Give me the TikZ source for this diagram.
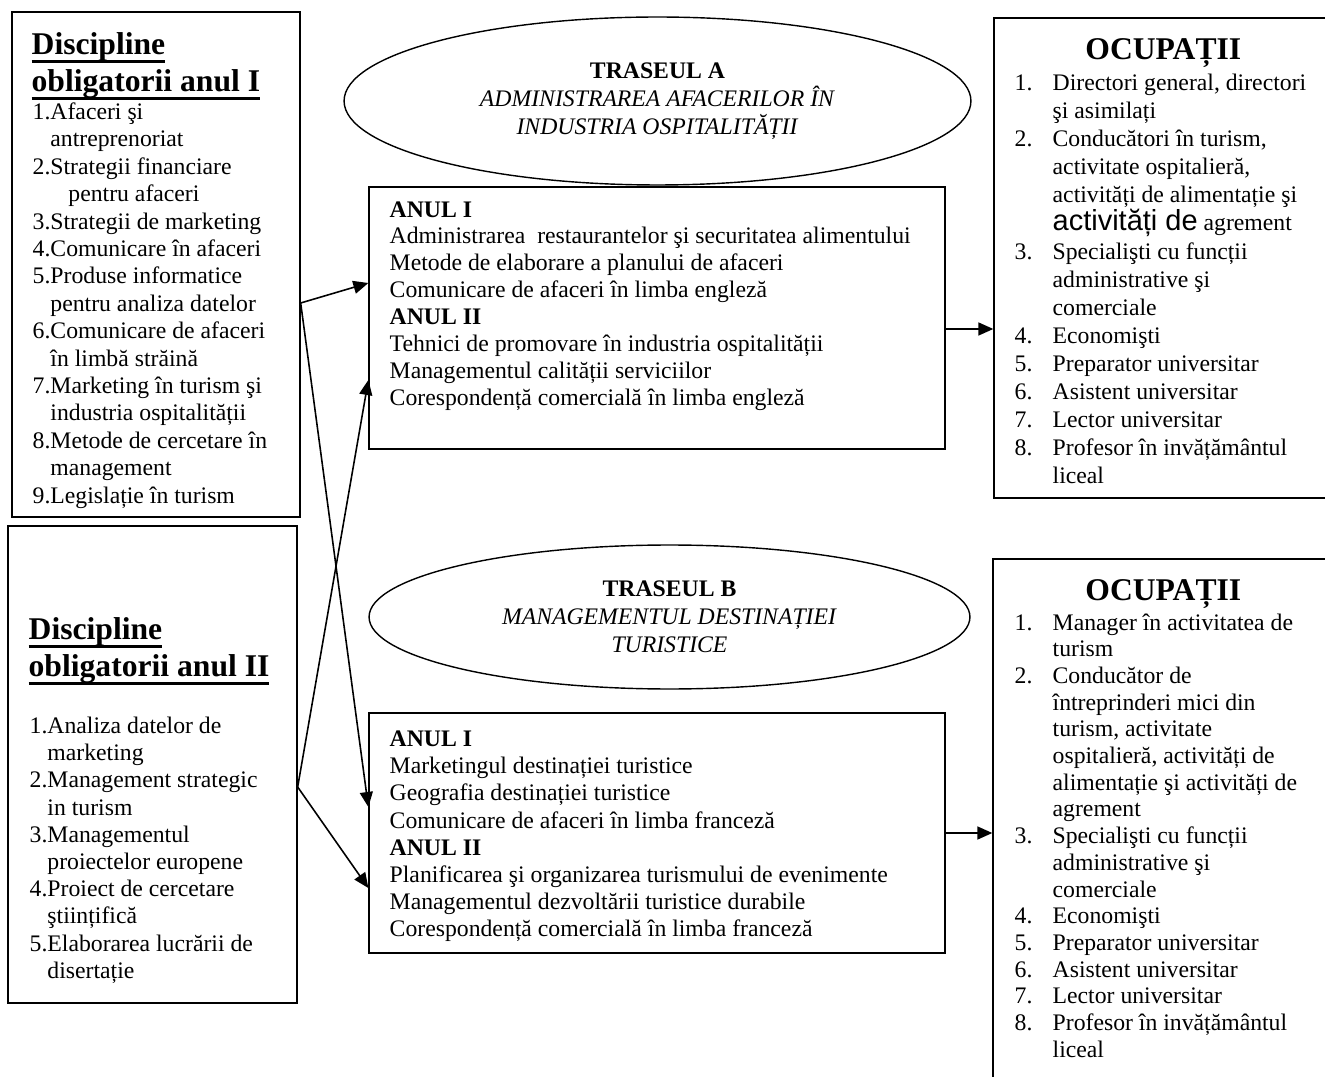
\documentclass[tikz,border=0pt]{standalone}
\usepackage{fontspec}
\setmainfont{Liberation Serif}
\newfontfamily\arialfont{Liberation Sans}
\usetikzlibrary{shapes.geometric,arrows.meta,positioning}

\newcommand{\nr}[1]{\makebox[0.76cm][l]{#1}}
\newcommand{\nx}{\hspace*{0.76cm}}
\newsavebox{\ulbox}
\newcommand{\ulin}[1]{\sbox{\ulbox}{#1}\rlap{\rule[-5pt]{\wd\ulbox}{1.4pt}}\usebox{\ulbox}}

\begin{document}
\begin{tikzpicture}[
    x=0.02cm, y=-0.02cm,
    box/.style={draw, line width=0.8pt, rectangle, inner sep=0pt},
    oval/.style={draw, line width=0.8pt, ellipse, inner sep=0pt, align=center, font=\fontsize{13.5pt}{15.8pt}\selectfont},
    txt/.style={anchor=north west, inner sep=0pt, align=left},
    head/.style={inner sep=0pt, font=\fontsize{18pt}{21pt}\selectfont\bfseries},
    arrow/.style={line width=0.9pt, -{Triangle[length=0.3cm, width=0.26cm]}}
]
\useasboundingbox (0,0) rectangle (1325,1077);

% left column
\node (disc1) [box, minimum width=5.76cm, minimum height=10.1cm] at (156,264.5) {};
\node (disc2) [box, minimum width=5.78cm, minimum height=9.54cm] at (152.5,764.5) {};

\node (disc1head) [txt, font=\fontsize{18pt}{21pt}\selectfont\bfseries] at ([shift={(20,16.6)}]disc1.north west)
    {\strut\ulin{Discipline}\\\ulin{obligatorii anul I}};
\node (disc1list) [txt, font=\fontsize{13.5pt}{15.6pt}\selectfont] at ([shift={(21,88.6)}]disc1.north west)
    {\strut1.Afaceri şi\\
     \phantom{1.}antreprenoriat\\
     2.Strategii financiare\\
     \phantom{1.}\hspace*{0.36cm}pentru afaceri\\
     3.Strategii de marketing\\
     4.Comunicare în afaceri\\
     5.Produse informatice\\
     \phantom{1.}pentru analiza datelor\\
     6.Comunicare de afaceri\\
     \phantom{1.}în limbă străină\\
     7.Marketing în turism şi\\
     \phantom{1.}industria ospitalității\\
     8.Metode de cercetare în\\
     \phantom{1.}management\\
     9.Legislație în turism};

\node (disc2head) [txt, font=\fontsize{18pt}{21pt}\selectfont\bfseries] at ([shift={(21,87.6)}]disc2.north west)
    {\strut\ulin{Discipline}\\\ulin{obligatorii anul II}};
\node (disc2list) [txt, font=\fontsize{13.5pt}{15.5pt}\selectfont] at ([shift={(22,188.6)}]disc2.north west)
    {\strut1.Analiza datelor de\\
     \phantom{1.}marketing\\
     2.Management strategic\\
     \phantom{1.}in turism\\
     3.Managementul\\
     \phantom{1.}proiectelor europene\\
     4.Proiect de cercetare\\
     \phantom{1.}ştiințifică\\
     5.Elaborarea lucrării de\\
     \phantom{1.}disertație};

% traseul A
\node (ovalA) [oval, minimum width=12.54cm, minimum height=3.36cm] at (657.5,101)
    {\textbf{TRASEUL A}\\\textit{ADMINISTRAREA AFACERILOR ÎN}\\\textit{INDUSTRIA OSPITALITĂȚII}};
\node (trA) [box, minimum width=11.52cm, minimum height=5.24cm] at (657,318) {};
\node (trAtext) [txt, font=\fontsize{13.5pt}{15.3pt}\selectfont] at ([shift={(21,11.6)}]trA.north west)
    {\strut\textbf{ANUL I}\\
     Administrarea~ restaurantelor şi securitatea alimentului\\
     Metode de elaborare a planului de afaceri\\
     Comunicare de afaceri în limba engleză\\
     \textbf{ANUL II}\\
     Tehnici de promovare în industria ospitalității\\
     Managementul calității serviciilor\\
     Corespondență comercială în limba engleză};

% traseul B
\node (ovalB) [oval, minimum width=12.02cm, minimum height=2.88cm] at (669.5,617)
    {\textbf{TRASEUL B}\\\textit{MANAGEMENTUL DESTINAȚIEI}\\\textit{TURISTICE}};
\node (trB) [box, minimum width=11.52cm, minimum height=4.8cm] at (657,833) {};
\node (trBtext) [txt, font=\fontsize{13.5pt}{15.5pt}\selectfont] at ([shift={(21,14.6)}]trB.north west)
    {\strut\textbf{ANUL I}\\
     Marketingul destinației turistice\\
     Geografia destinației turistice\\
     Comunicare de afaceri în limba franceză\\
     \textbf{ANUL II}\\
     Planificarea şi organizarea turismului de evenimente\\
     Managementul dezvoltării turistice durabile\\
     Corespondență comercială în limba franceză};

% ocupatii
\node (ocA) [box, minimum width=6.92cm, minimum height=9.6cm] at (1167,258) {};
\node (ocAhead) [head] at ([shift={(170,36)}]ocA.north west) {OCUPAȚII};
\node (ocAlist) [txt, font=\fontsize{13.5pt}{16pt}\selectfont] at ([shift={(21,53)}]ocA.north west)
    {\strut\nr{1.}Directori general, directori\\
     \nx şi asimilați\\
     \nr{2.}Conducători în turism,\\
     \nx activitate ospitalieră,\\
     \nx activități de alimentație şi\\
     \nx {\arialfont\fontsize{16.5pt}{16pt}\selectfont activități de} agrement\\
     \nr{3.}Specialişti cu funcții\\
     \nx administrative şi\\
     \nx comerciale\\
     \nr{4.}Economişti\\
     \nr{5.}Preparator universitar\\
     \nr{6.}Asistent universitar\\
     \nr{7.}Lector universitar\\
     \nr{8.}Profesor în invățământul\\
     \nx liceal};

\node (ocB) [box, minimum width=6.94cm, minimum height=10.62cm] at (1166.5,824.5) {};
\node (ocBhead) [head] at ([shift={(171,36)}]ocB.north west) {OCUPAȚII};
\node (ocBlist) [txt, font=\fontsize{13.5pt}{15.2pt}\selectfont] at ([shift={(22,52.6)}]ocB.north west)
    {\strut\nr{1.}Manager în activitatea de\\
     \nx turism\\
     \nr{2.}Conducător de\\
     \nx întreprinderi mici din\\
     \nx turism, activitate\\
     \nx ospitalieră, activități de\\
     \nx alimentație şi activități de\\
     \nx agrement\\
     \nr{3.}Specialişti cu funcții\\
     \nx administrative şi\\
     \nx comerciale\\
     \nr{4.}Economişti\\
     \nr{5.}Preparator universitar\\
     \nr{6.}Asistent universitar\\
     \nr{7.}Lector universitar\\
     \nr{8.}Profesor în invățământul\\
     \nx liceal};

% connectors
\coordinate (d1out) at ([yshift=-0.77cm]disc1.east);
\coordinate (d2out) at ([yshift=-0.45cm]disc2.east);
\coordinate (aout) at ([yshift=-0.22cm]trA.east);

\draw [arrow] (d1out) -- ([yshift=0.7cm]trA.west);
\draw [arrow] (d1out) -- ([yshift=0.52cm]trB.west);
\draw [arrow] (d2out) -- ([yshift=-1.24cm]trA.west);
\draw [arrow] (d2out) -- ([yshift=-1.1cm]trB.west);

\draw [arrow] (aout) -- (aout -| ocA.west);
\draw [arrow] (trB.east) -- (trB.east -| ocB.west);

\end{tikzpicture}
\end{document}
